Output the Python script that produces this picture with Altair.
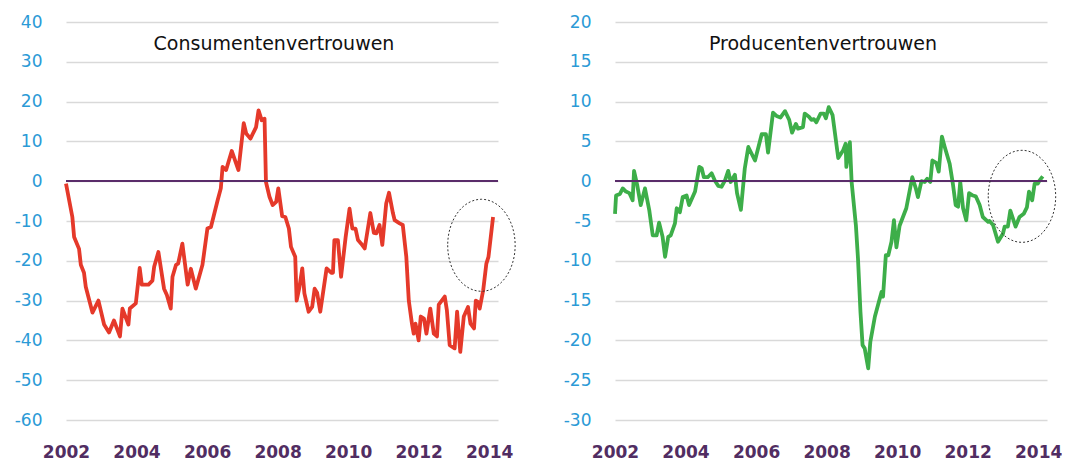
import altair as alt
import pandas as pd

# ---- Consumentenvertrouwen (left panel) ----
cons_t = [2002.00, 2002.18, 2002.23, 2002.37, 2002.42, 2002.51, 2002.56, 2002.75, 2002.92,
          2003.08, 2003.22, 2003.36, 2003.53, 2003.60, 2003.77, 2003.81, 2003.98,
          2004.09, 2004.15, 2004.34, 2004.45, 2004.50, 2004.62, 2004.78, 2004.86, 2004.97,
          2005.02, 2005.12, 2005.18, 2005.30, 2005.45, 2005.54, 2005.68, 2005.87,
          2006.01, 2006.11, 2006.30, 2006.39, 2006.44, 2006.54, 2006.70, 2006.89,
          2007.04, 2007.11, 2007.23, 2007.39, 2007.46, 2007.55, 2007.63, 2007.67, 2007.77, 2007.86, 2007.96,
          2008.02, 2008.13, 2008.22, 2008.32, 2008.38, 2008.50, 2008.54, 2008.62, 2008.70, 2008.76, 2008.88, 2008.98,
          2009.05, 2009.12, 2009.21, 2009.39, 2009.52, 2009.57, 2009.61, 2009.71, 2009.80, 2009.93,
          2010.04, 2010.12, 2010.21, 2010.28, 2010.37, 2010.47, 2010.63, 2010.73, 2010.80, 2010.89, 2010.97,
          2011.08, 2011.16, 2011.27, 2011.32, 2011.46, 2011.55, 2011.65, 2011.72, 2011.81, 2011.86, 2011.91,
          2012.00, 2012.06, 2012.15, 2012.22, 2012.33, 2012.43, 2012.52, 2012.57, 2012.74, 2012.80, 2012.88,
          2013.02, 2013.09, 2013.18, 2013.28, 2013.40, 2013.47, 2013.57, 2013.62, 2013.68, 2013.73, 2013.83, 2013.92, 2013.98,
          2014.11]
cons_v = [-0.6, -9, -14, -17, -21, -23, -26.5, -33, -30,
          -36, -38, -35, -39, -32, -36, -32, -30.7,
          -21.8, -26, -26, -25, -21.5, -17.8, -27, -28.6, -32,
          -24, -21, -20.7, -15.7, -26, -22, -27, -21,
          -11.9, -11.5, -4.8, -1.8, 3.6, 2.8, 7.6, 2.8,
          14.6, 12, 10.7, 13.6, 17.8, 15.3, 15.7, -0.2, -3.9, -6, -5.2,
          -1.8, -8.8, -9, -11.9, -16.5, -19, -30, -26.6, -21.9, -28.2, -32.8, -31.6,
          -27, -28, -32.8, -21.9, -23, -23, -14.8, -14.8, -24, -14,
          -6.9, -11.9, -11.9, -14.8, -15.7, -16.9, -8, -13, -13.1, -11, -16,
          -5.6, -2.9, -8, -9.8, -10.6, -11, -19, -30, -35.8, -38.3, -35.8,
          -40, -34, -34.5, -38.3, -32, -38.3, -39, -31, -29, -32.4, -41.2,
          -42, -32.8, -42.9, -34, -31.6, -35.8, -37, -30, -30.3, -32, -27.4, -20.7, -19,
          -9]

# ---- Producentenvertrouwen (right panel) ----
prod_t = [2002.00, 2002.03, 2002.14, 2002.22, 2002.31, 2002.41, 2002.50, 2002.54, 2002.63, 2002.73, 2002.85, 2002.97,
          2003.07, 2003.18, 2003.25, 2003.35, 2003.42, 2003.51, 2003.58, 2003.70, 2003.75, 2003.84, 2003.92,
          2004.03, 2004.10, 2004.27, 2004.39, 2004.46, 2004.52, 2004.63, 2004.74, 2004.83, 2004.93,
          2005.02, 2005.12, 2005.21, 2005.28, 2005.40, 2005.46, 2005.57, 2005.68, 2005.78, 2005.97,
          2006.16, 2006.28, 2006.34, 2006.48, 2006.58, 2006.69, 2006.82, 2006.94,
          2007.02, 2007.13, 2007.19, 2007.33, 2007.38, 2007.50, 2007.57, 2007.64, 2007.71, 2007.83, 2007.92, 2007.98,
          2008.06, 2008.17, 2008.33, 2008.47, 2008.54, 2008.56, 2008.66, 2008.71, 2008.83, 2008.89, 2008.96,
          2009.02, 2009.08, 2009.18, 2009.24, 2009.37, 2009.51, 2009.56, 2009.60, 2009.68, 2009.75, 2009.84, 2009.91, 2009.98,
          2010.07, 2010.26, 2010.43, 2010.53, 2010.59, 2010.69, 2010.78, 2010.85, 2010.94,
          2011.00, 2011.11, 2011.18, 2011.27, 2011.35, 2011.49, 2011.58, 2011.66, 2011.73, 2011.79, 2011.87, 2011.96,
          2012.04, 2012.15, 2012.23, 2012.34, 2012.43, 2012.58, 2012.62, 2012.72, 2012.86,
          2013.00, 2013.05, 2013.14, 2013.21, 2013.36, 2013.47, 2013.59, 2013.68, 2013.74, 2013.83, 2013.90, 2013.99,
          2014.04, 2014.13]
prod_v = [-4.1, -1.8, -1.6, -0.9, -1.3, -1.5, -2.4, 1.3, -0.5, -3, -0.9, -3.6,
          -6.8, -6.8, -5.2, -7, -9.5, -7, -6.8, -5.3, -3.4, -3.9, -2,
          -1.8, -3, -1.3, 1.8, 1.6, 0.5, 0.5, 1, 0.1, -0.6,
          -0.7, 0.1, 1.3, -0.1, 0.8, -1.5, -3.6, 1.6, 4.3, 2.6,
          5.9, 5.9, 3.6, 8.6, 8.2, 8, 8.8, 7.7,
          6.1, 7.2, 6.6, 6.8, 8.5, 8.1, 7.7, 7.8, 7.4, 8.5, 8.5, 7.9,
          9.3, 8.3, 2.9, 3.9, 4.7, 1.8, 4.9, -0.1, -5.5, -9.7, -16.4,
          -20.6, -21, -23.5, -20.2, -17, -14.7, -13.9, -14.5, -9.3, -9.3, -7.6, -4.9, -8.3,
          -5.6, -3.4, 0.5, -0.9, -2, 0, -0.1, 0.3, -0.1,
          2.6, 2.3, 1.2, 5.6, 4.3, 2.2, -0.3, -3, -3.2, -0.1, -3.4, -4.9,
          -1.5, -1.8, -1.9, -3, -4.5, -5.1, -5, -5.5, -7.6,
          -6.6, -5.7, -5.7, -3.7, -5.7, -4.5, -4.1, -3.3, -1.3, -2.4, -0.3, -0.3,
          0.1, 0.6]

years = [2002, 2004, 2006, 2008, 2010, 2012, 2014]
titles = ["Consumentenvertrouwen", "Producentenvertrouwen"]

# annotation ellipses (centre in data units)
ell_cons = {"t": [2013.78], "v": [-16.1]}
ell_prod = {"t": [2013.54], "v": [-1.9]}

RED = "#E5392A"
GREEN = "#3DAE49"
BLUE = "#2B9AD6"
PURPLE = "#512D62"
ZERO = "#5A2D6A"
GRID = "#D9D9D9"
FONT = "DejaVu Sans"

ELLIPSE = "M -0.733 0 A 0.733 1 0 1 0 0.733 0 A 0.733 1 0 1 0 -0.733 0 Z"

W, H = 432, 398


def panel(t, v, color, ymin, ymax, ystep, title, ell):
    df = pd.DataFrame({"t": t, "v": v})
    xscale = alt.Scale(domain=[2002, 2014.25], nice=False, zero=False)
    xaxis = alt.Axis(values=years, format="d", title=None, grid=False,
                     ticks=False, tickSize=0, domain=False,
                     labelFont=FONT, labelFontSize=17, labelFontWeight="bold",
                     labelColor=PURPLE, labelPadding=24, labelFlush=False,
                     labelOverlap=False)
    yscale = alt.Scale(domain=[ymin, ymax], nice=False, zero=False)
    yaxis = alt.Axis(values=list(range(ymin, ymax + 1, ystep)), title=None,
                     grid=True, gridColor=GRID, gridWidth=1.5,
                     ticks=False, tickSize=0, domain=False,
                     labelFont=FONT, labelFontSize=17, labelColor=BLUE,
                     labelPadding=24, labelFlush=False, labelOverlap=False,
                     labelExpr="(datum.value < 0 ? '-' : '') + abs(datum.value)",
                     minExtent=58, maxExtent=58)
    xenc = alt.X("t:Q", scale=xscale, axis=xaxis)
    yenc = alt.Y("v:Q", scale=yscale, axis=yaxis)

    line = alt.Chart(df).mark_line(color=color, strokeWidth=3.8, strokeJoin="round").encode(
        x=xenc, y=yenc)
    zero = alt.Chart(df).mark_rule(color=ZERO, strokeWidth=1.5).encode(
        y=alt.Y(datum=0, type="quantitative", scale=yscale, axis=yaxis))
    ellipse = alt.Chart(pd.DataFrame(ell)).mark_point(
        shape=ELLIPSE, size=8464, filled=False, color="#333333", strokeWidth=1,
        strokeDash=[2, 2], opacity=1).encode(x=xenc, y=yenc)
    ttl = alt.Chart(pd.DataFrame({"txt": [title]})).mark_text(
        font=FONT, fontSize=19, color="#111111", align="center", baseline="middle").encode(
        text="txt:N", x=alt.value(208), y=alt.value(22))
    return alt.layer(line, zero, ellipse, ttl).properties(width=W, height=H)


left = panel(cons_t, cons_v, RED, -60, 40, 10, titles[0], ell_cons)
right = panel(prod_t, prod_v, GREEN, -30, 20, 5, titles[1], ell_prod)

chart = alt.hconcat(left, right, spacing=117, bounds="flush").properties(
    padding={"left": 0, "top": 5, "right": 0, "bottom": 0},
    background="white",
).configure_view(strokeWidth=0, strokeOpacity=0).configure_axis(
    domain=False, ticks=False
)

chart.save("out.html", embed_options={"renderer": "svg", "actions": False})
